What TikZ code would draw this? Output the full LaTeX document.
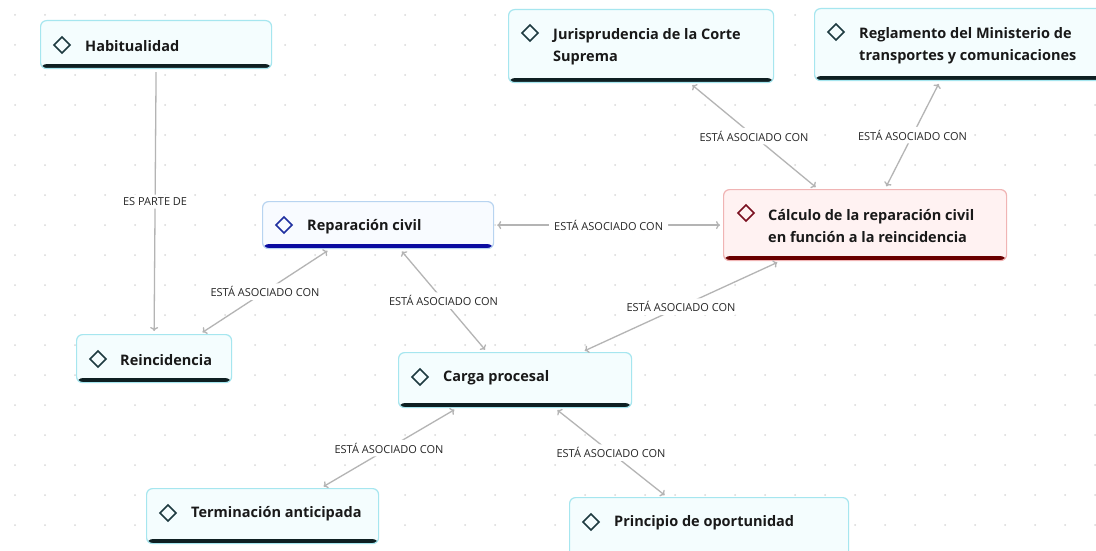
\documentclass[tikz,border=0pt]{standalone}
\usepackage{fontspec}
\setmainfont{Open Sans}
\usetikzlibrary{arrows.meta,calc}
\definecolor{boxfill}{HTML}{F4FDFE}
\definecolor{boxline}{HTML}{A6E6EF}
\definecolor{bardark}{HTML}{0E1F22}
\definecolor{icondark}{HTML}{1D3A40}
\definecolor{repline}{HTML}{B8D4F0}
\definecolor{repfill}{HTML}{F8FBFF}
\definecolor{repbar}{HTML}{0B0BA0}
\definecolor{repicon}{HTML}{2030A0}
\definecolor{calfill}{HTML}{FFF2F2}
\definecolor{calline}{HTML}{F0B4B4}
\definecolor{calbar}{HTML}{6A0000}
\definecolor{calicon}{HTML}{7A1020}
\definecolor{conn}{HTML}{B4B4B4}
\definecolor{dotc}{HTML}{D8D8D8}
\tikzset{
  barc/.initial=bardark,
  box/.style={draw=boxline, fill=boxfill, rounded corners=6pt, line width=1.2pt,
    anchor=north west, inner sep=0pt,
    path picture={\fill[fill=\pgfkeysvalueof{/tikz/barc}]
      ([yshift=4.5pt]path picture bounding box.south west) rectangle (path picture bounding box.south east);}},
  txt/.style={anchor=west, inner sep=0pt, font=\fontsize{14.5}{22.5}\selectfont\bfseries, align=left, text=black!90},
  icon/.style={draw=icondark, line width=1.5pt, line join=miter},
  conline/.style={draw=conn, line width=1.3pt, shorten <=3pt, shorten >=3pt},
  both/.style={conline, {To[length=4pt,width=8pt]}-{To[length=4pt,width=8pt]}},
  one/.style={conline, -{To[length=4pt,width=8pt]}},
  lab/.style={fill=white, rounded corners=6pt, inner xsep=5pt, inner ysep=3pt,
    font=\fontsize{11}{13}\selectfont, text=black!85}
}
\newcommand{\dmd}[3][icondark]{\draw[icon, draw=#1] (#2-8,#3) -- (#2,#3-8) -- (#2+8,#3) -- (#2,#3+8) -- cycle;}
\begin{document}
\begin{tikzpicture}[x=1pt,y=-1pt]
\path[use as bounding box, clip] (0,0) rectangle (1096,551);
\fill[white] (0,0) rectangle (1096,551);
\foreach \i in {0,...,36}{\foreach \j in {0,...,18}{\fill[dotc] (15+30*\i,15+30*\j) circle (1pt);}}
% boxes
\node[box, minimum width=231pt, minimum height=48pt] (hab) at (40,20) {};
\node[box, minimum width=265pt, minimum height=73pt] (jur) at (508,9) {};
\node[box, minimum width=300pt, minimum height=72pt] (reg) at (814,8) {};
\node[box, draw=repline, fill=repfill, barc=repbar, minimum width=231pt, minimum height=47pt] (rep) at (262,201) {};
\node[box, draw=calline, fill=calfill, barc=calbar, minimum width=283pt, minimum height=71pt] (cal) at (723,189) {};
\node[box, minimum width=155pt, minimum height=48pt] (rei) at (76,334) {};
\node[box, minimum width=233pt, minimum height=55pt] (car) at (398,352) {};
\node[box, minimum width=232pt, minimum height=55pt] (ter) at (146,488) {};
\node[box, minimum width=279pt, minimum height=62pt] (pri) at (569,497) {};
% texts
\node[txt] (habT) at (85,46) {Habitualidad};
\node[txt] (jurT) at (553,46.5) {Jurisprudencia de la Corte\\Suprema};
\node[txt] (regT) at (859,45.5) {Reglamento del Ministerio de\\transportes y comunicaciones};
\node[txt] (repT) at (307,226.5) {Reparación civil};
\node[txt] (calT) at (768,226) {Cálculo de la reparación civil\\en función a la reincidencia};
\node[txt] (reiT) at (120,360) {Reincidencia};
\node[txt] (carT) at (443,378) {Carga procesal};
\node[txt] (terT) at (191,514) {Terminación anticipada};
\node[txt] (priT) at (614,523) {Principio de oportunidad};
% icons
\dmd{62}{45}
\dmd{530}{33}
\dmd{836}{32}
\dmd[repicon]{284}{225}
\dmd[calicon]{746}{213}
\dmd{98}{359}
\dmd{420}{377}
\dmd{168}{513}
\dmd{591}{522}
% connectors
\draw[one] (hab.south) -- node[lab] (l1) {ES PARTE DE} (rei.north);
\draw[both] (rep.east) -- node[lab] (l2) {ESTÁ ASOCIADO CON} (cal.west);
\draw[both] ($(rep.south west)+(68,0)$) -- node[lab] (l3) {ESTÁ ASOCIADO CON} ($(rei.north west)+(124,0)$);
\draw[both] ($(rep.south west)+(138,0)$) -- node[lab] (l4) {ESTÁ ASOCIADO CON} ($(car.north west)+(89,0)$);
\draw[both] ($(cal.south west)+(57,0)$) -- node[lab] (l5) {ESTÁ ASOCIADO CON} ($(car.north west)+(184,0)$);
\draw[both] ($(jur.south west)+(182,0)$) -- node[lab] (l6) {ESTÁ ASOCIADO CON} ($(cal.north west)+(95,0)$);
\draw[both] ($(reg.south west)+(126,0)$) -- node[lab] (l7) {ESTÁ ASOCIADO CON} ($(cal.north west)+(162,0)$);
\draw[both] ($(car.south west)+(59,0)$) -- node[lab] (l8) {ESTÁ ASOCIADO CON} ($(ter.north west)+(175,0)$);
\draw[both] ($(car.south west)+(157,0)$) -- node[lab] (l9) {ESTÁ ASOCIADO CON} ($(pri.north west)+(98,0)$);
\end{tikzpicture}
\end{document}
